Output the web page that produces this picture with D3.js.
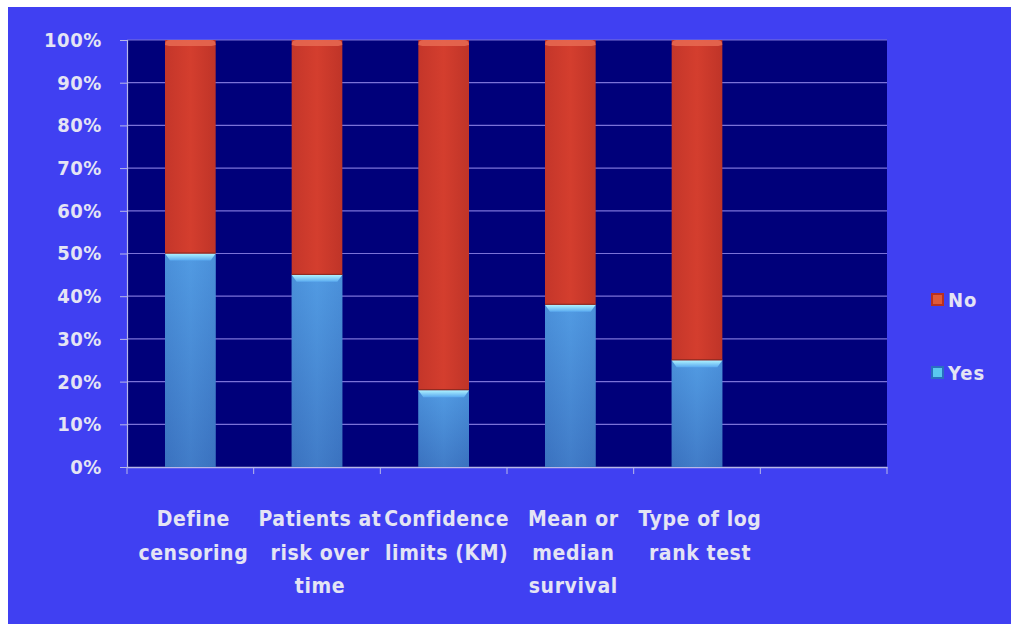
<!DOCTYPE html>
<html><head><meta charset="utf-8">
<script src="https://cdn.jsdelivr.net/npm/d3@7"></script>
<style>
html,body{margin:0;padding:0;background:#fff;}
svg{display:block;}
text{font-family:"DejaVu Sans Condensed","Liberation Sans Narrow",sans-serif;font-weight:bold;fill:#e4e4f4;}
</style></head>
<body>
<svg id="chart" width="1011" height="624"></svg>
<script>
const categories = [
  ["Define","censoring"],
  ["Patients at","risk over","time"],
  ["Confidence","limits (KM)"],
  ["Mean or","median","survival"],
  ["Type of log","rank test"],
  [""]
];
const yesValues = [50, 45, 18, 38, 25];
const noValues  = [50, 55, 82, 62, 75];
const seriesNames = ["No","Yes"];
const yTicks = [0,10,20,30,40,50,60,70,80,90,100];

const svg = d3.select("#chart");
const W = 1011, H = 624;
const plot = {left:127, right:887, top:40, bottom:467};

const defs = svg.append("defs");
const gBlue = defs.append("linearGradient").attr("id","gBlue").attr("x1",0).attr("x2",1).attr("y1",0).attr("y2",0);
gBlue.append("stop").attr("offset","0%").attr("stop-color","#3a78c8");
gBlue.append("stop").attr("offset","50%").attr("stop-color","#4a90dc");
gBlue.append("stop").attr("offset","100%").attr("stop-color","#3a78c8");
const gBlueV = defs.append("linearGradient").attr("id","gBlueV").attr("x1",0).attr("x2",0).attr("y1",0).attr("y2",1);
gBlueV.append("stop").attr("offset","0%").attr("stop-color","#58a4e8");
gBlueV.append("stop").attr("offset","100%").attr("stop-color","#3a6cb8");
const gRed = defs.append("linearGradient").attr("id","gRed").attr("x1",0).attr("x2",1).attr("y1",0).attr("y2",0);
gRed.append("stop").attr("offset","0%").attr("stop-color","#c4362a");
gRed.append("stop").attr("offset","50%").attr("stop-color","#d43e2e");
gRed.append("stop").attr("offset","100%").attr("stop-color","#bf3428");
const gCyan = defs.append("linearGradient").attr("id","gCyan").attr("x1",0).attr("x2",0).attr("y1",0).attr("y2",1);
gCyan.append("stop").attr("offset","0%").attr("stop-color","#b0f4ff");
gCyan.append("stop").attr("offset","100%").attr("stop-color","#5aaaf0");

// page background
svg.append("rect").attr("x",8).attr("y",7).attr("width",W-8).attr("height",H-7).attr("fill","#4040f2");

// plot area
svg.append("rect").attr("x",plot.left).attr("y",plot.top)
  .attr("width",plot.right-plot.left).attr("height",plot.bottom-plot.top).attr("fill","#00007a");

const x = d3.scaleBand().domain(d3.range(categories.length)).range([plot.left,plot.right]).paddingInner(0.6).paddingOuter(0.3);
const xb = d3.scaleBand().domain(d3.range(categories.length)).range([plot.left,plot.right]);
const y = d3.scaleLinear().domain([0,100]).range([plot.bottom,plot.top]);

// gridlines
svg.append("g").selectAll("line").data(yTicks.slice(1)).join("line")
  .attr("x1",plot.left).attr("x2",plot.right)
  .attr("y1",d=>y(d)).attr("y2",d=>y(d))
  .attr("stroke","#7a72d8").attr("stroke-width",1.2);

// y axis
const yAxis = d3.axisLeft(y).tickValues(yTicks).tickFormat(d=>d+"%").tickSize(7).tickPadding(18);
const ya = svg.append("g").attr("transform",`translate(${plot.left},0)`).call(yAxis);
ya.select(".domain").attr("stroke","#b8b8e8").attr("stroke-width",1.2);
ya.selectAll(".tick line").attr("stroke","#b8b8e8");
ya.selectAll(".tick text").attr("font-size",20).attr("fill","#e4e4f4").style("letter-spacing","0.6px");

// x axis
const xAxis = d3.axisBottom(xb).tickSize(0).tickFormat("");
const xa = svg.append("g").attr("transform",`translate(0,${plot.bottom})`).call(xAxis);
xa.select(".domain").attr("stroke","#b8b8e8").attr("stroke-width",1.5);
xa.selectAll(".tick").remove();
const bounds = d3.range(categories.length+1).map(i=> i<categories.length ? xb(i) : xb(categories.length-1)+xb.bandwidth());
xa.selectAll("line.bt").data(bounds).join("line").attr("class","bt")
  .attr("x1",d=>d).attr("x2",d=>d).attr("y1",0).attr("y2",7).attr("stroke","#b8b8e8");

// bars
const bars = svg.append("g");
yesValues.forEach((v,i)=>{
  const bx = x(i), bw = x.bandwidth();
  bars.append("rect").attr("x",bx).attr("y",y(v)).attr("width",bw).attr("height",y(0)-y(v)).attr("fill","url(#gBlueV)");
  bars.append("rect").attr("x",bx).attr("y",y(v)).attr("width",bw).attr("height",y(0)-y(v)).attr("fill","url(#gBlue)").attr("opacity",0.45);
  bars.append("path").attr("d",`M${bx},${y(v)} L${bx+bw},${y(v)} L${bx+bw-5},${y(v)+7} L${bx+5},${y(v)+7} Z`).attr("fill","url(#gCyan)");
  const top = v + noValues[i];
  bars.append("rect").attr("x",bx).attr("y",y(top)).attr("width",bw).attr("height",y(v)-y(top)).attr("fill","url(#gRed)");
  bars.append("path").attr("d",`M${bx},${y(top)+5} Q${bx},${y(top)} ${bx+5},${y(top)} L${bx+bw-5},${y(top)} Q${bx+bw},${y(top)} ${bx+bw},${y(top)+5} L${bx+bw-4},${y(top)+6} L${bx+4},${y(top)+6} Z`).attr("fill","#e86a52").attr("opacity",0.85);
  bars.append("line").attr("x1",bx).attr("x2",bx+bw).attr("y1",y(v)-0.5).attr("y2",y(v)-0.5).attr("stroke","#8a2a20").attr("stroke-width",1);
});

// category labels
const lab = svg.append("g");
categories.forEach((lines,i)=>{
  const t = lab.append("text").attr("text-anchor","middle").attr("font-size",21).style("letter-spacing","0.6px");
  lines.forEach((ln,j)=>{
    t.append("tspan").attr("x",xb(i)+xb.bandwidth()/2+3).attr("y",526+j*33.5).text(ln);
  });
});

// legend
const legendColors = {"No":["#e05a3a","#b83020"],"Yes":["#5ac8f0","#2a70c0"]};
const legY = [300, 373];
seriesNames.forEach((s,i)=>{
  const g = svg.append("g").attr("transform",`translate(931,${legY[i]})`);
  g.append("rect").attr("x",0).attr("y",-7).attr("width",13).attr("height",13).attr("fill",legendColors[s][1]);
  g.append("rect").attr("x",2).attr("y",-5).attr("width",9).attr("height",9).attr("fill",legendColors[s][0]);
  g.append("text").attr("x",17).attr("y",7).attr("font-size",20).style("letter-spacing","1px").text(s);
});
</script>
</body></html>
